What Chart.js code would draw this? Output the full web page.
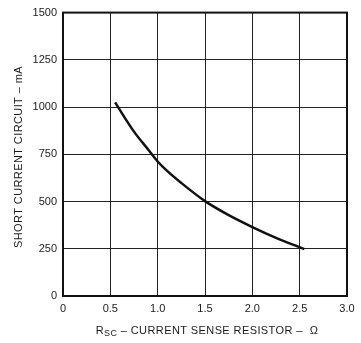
<!DOCTYPE html>
<html>
<head>
<meta charset="utf-8">
<script src="https://cdn.jsdelivr.net/npm/chart.js@4"></script>
<style>
  html, body { margin: 0; padding: 0; background: #fff; }
  #wrap { width: 361px; height: 343px; }
</style>
</head>
<body>
<div id="wrap"><canvas id="myChart" width="361" height="343"></canvas></div>
<script>
// resistor values (ohm) and short circuit current (mA)
const rsc = [0.55, 0.75, 0.9, 1.0, 1.1, 1.25, 1.5, 1.75, 2.0, 2.25, 2.55];
const current = [1025, 870, 775, 712, 662, 598, 502, 428, 365, 308, 248];
const xTickLabels = ['0', '0.5', '1.0', '1.5', '2.0', '2.5', '3.0'];
const yTickLabels = ['0', '250', '500', '750', '1000', '1250', '1500'];

const FONT = '"Liberation Sans", Arial, sans-serif';

// frame + axis titles (x title has a subscript)
const framePlugin = {
    id: 'frame',
    afterDraw(chart) {
        const ctx = chart.ctx;
        const a = chart.chartArea;
        ctx.save();
        ctx.strokeStyle = '#111';
        ctx.lineWidth = 2;
        ctx.strokeRect(a.left, a.top, a.right - a.left, a.bottom - a.top);

        ctx.fillStyle = '#1a1a1a';
        ctx.textBaseline = 'alphabetic';
        ctx.letterSpacing = '0.4px';
        // x title
        const main = ' \u2013 CURRENT SENSE RESISTOR \u2013  \u03a9';
        ctx.font = '11px ' + FONT;
        const wR = ctx.measureText('R').width;
        ctx.font = '9px ' + FONT;
        const wSub = ctx.measureText('SC').width;
        ctx.font = '11px ' + FONT;
        const wMain = ctx.measureText(main).width;
        let x = 207 - (wR + wSub + wMain) / 2;
        const y = 334;
        ctx.textAlign = 'left';
        ctx.fillText('R', x, y);
        x += wR;
        ctx.font = '9px ' + FONT;
        ctx.fillText('SC', x, y + 2);
        x += wSub;
        ctx.font = '11px ' + FONT;
        ctx.fillText(main, x, y);

        // y title
        ctx.translate(22, 157);
        ctx.rotate(-Math.PI / 2);
        ctx.textAlign = 'center';
        ctx.fillText('SHORT CURRENT CIRCUIT \u2013 mA', 0, 0);
        ctx.restore();
    }
};

let chart;

function showData() {
    const ctx = document.getElementById('myChart');
    if (chart) {
        chart.destroy();
    }

    chart = new Chart(ctx, {
        type: 'scatter',
        data: {
            datasets: [{
                label: 'Short circuit current',
                data: rsc.map((r, i) => ({ x: r, y: current[i] })),
                showLine: true,
                borderColor: '#111',
                borderWidth: 2.5,
                pointRadius: 0,
                cubicInterpolationMode: 'monotone'
            }]
        },
        options: {
            responsive: false,
            animation: false,
            layout: { padding: { top: 11, right: 14, left: 0, bottom: 0 } },
            plugins: {
                legend: { display: false },
                tooltip: { enabled: false }
            },
            scales: {
                x: {
                    type: 'linear',
                    min: 0,
                    max: 3,
                    afterFit(scale) { scale.height = 47; },
                    afterBuildTicks(scale) {
                        scale.ticks = xTickLabels.map(v => ({ value: parseFloat(v) }));
                    },
                    grid: { color: '#222', lineWidth: 1, drawTicks: false },
                    border: { display: false },
                    ticks: {
                        color: '#1a1a1a',
                        padding: 6,
                        font: { family: FONT, size: 11 },
                        callback: (v, i) => xTickLabels[i]
                    }
                },
                y: {
                    min: 0,
                    max: 1500,
                    afterFit(scale) { scale.width = 63; },
                    afterBuildTicks(scale) {
                        scale.ticks = yTickLabels.map(v => ({ value: Number(v) }));
                    },
                    grid: { color: '#222', lineWidth: 1, drawTicks: false },
                    border: { display: false },
                    ticks: {
                        color: '#1a1a1a',
                        padding: 6,
                        font: { family: FONT, size: 11 },
                        callback: (v, i) => yTickLabels[i]
                    }
                }
            }
        },
        plugins: [framePlugin]
    });
}

showData();
</script>
</body>
</html>
